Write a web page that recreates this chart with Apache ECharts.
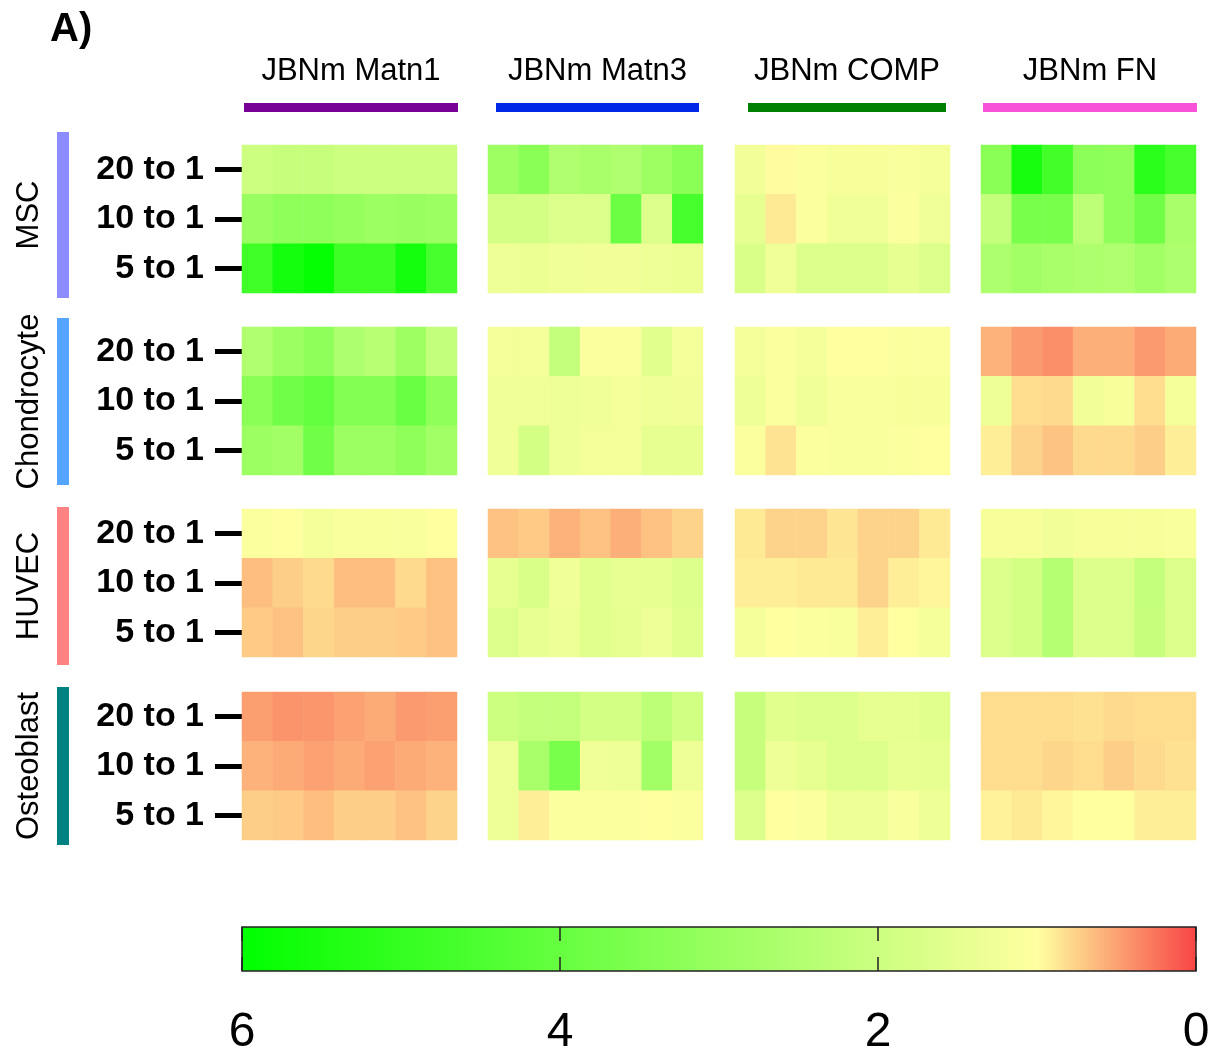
<!DOCTYPE html>
<html>
<head>
<meta charset="utf-8">
<script src="https://cdn.jsdelivr.net/npm/echarts@6/dist/echarts.min.js"></script>
<style>html,body{margin:0;padding:0;background:#fff;}#chart{width:1212px;height:1051px;}</style>
</head>
<body>
<div id="chart"></div>
<script>
// ---------------- DATA ----------------
const cellTypes = ['MSC', 'Chondrocyte', 'HUVEC', 'Osteoblast'];
const materials = ['JBNm Matn1', 'JBNm Matn3', 'JBNm COMP', 'JBNm FN'];
const ratios = ['20 to 1', '10 to 1', '5 to 1'];
const replicates = ['1', '2', '3', '4', '5', '6', '7'];
const colorbarMin = 0, colorbarMax = 6, colorbarStep = 2;

// each panel: rows = 20 to 1, 10 to 1, 5 to 1 ; 7 columns
const MSC_Matn1 = [
  [2.0, 2.1, 2.1, 2.0, 2.0, 2.0, 2.0],
  [3.0, 3.2, 3.2, 3.1, 2.95, 3.0, 2.95],
  [4.75, 5.6, 5.9, 4.8, 4.8, 5.6, 4.6]
];
const MSC_Matn3 = [
  [2.9, 3.3, 2.55, 2.7, 2.55, 2.9, 3.3],
  [1.85, 1.85, 1.7, 1.7, 3.9, 1.7, 4.6],
  [1.35, 1.4, 1.3, 1.25, 1.25, 1.35, 1.4]
];
const MSC_COMP = [
  [1.25, 0.98, 1.05, 1.15, 1.15, 1.1, 1.2],
  [1.5, 0.88, 1.05, 1.3, 1.3, 1.05, 1.3],
  [1.75, 1.3, 1.7, 1.7, 1.7, 1.5, 1.7]
];
const MSC_FN = [
  [3.3, 5.55, 4.7, 3.25, 3.2, 5.2, 4.6],
  [2.15, 3.65, 3.65, 2.3, 3.2, 3.8, 2.7],
  [2.6, 2.8, 2.7, 2.6, 2.55, 2.8, 2.6]
];
const Chondrocyte_Matn1 = [
  [2.55, 2.95, 3.2, 2.6, 2.4, 2.9, 2.2],
  [3.3, 3.8, 4.1, 3.45, 3.45, 3.95, 3.2],
  [2.95, 2.8, 3.8, 2.95, 2.95, 3.2, 2.8]
];
const Chondrocyte_Matn3 = [
  [1.2, 1.2, 2.15, 1.05, 1.05, 1.6, 1.2],
  [1.3, 1.3, 1.35, 1.3, 1.2, 1.3, 1.25],
  [1.3, 1.85, 1.35, 1.2, 1.2, 1.5, 1.5]
];
const Chondrocyte_COMP = [
  [1.2, 1.05, 1.2, 1.0, 1.0, 1.05, 1.05],
  [1.35, 1.05, 1.3, 1.1, 1.1, 1.15, 1.15],
  [1.05, 0.85, 1.05, 1.1, 1.1, 1.05, 1.0]
];
const Chondrocyte_FN = [
  [0.59, 0.46, 0.4, 0.57, 0.57, 0.46, 0.55],
  [1.35, 0.82, 0.8, 1.25, 1.15, 0.82, 1.2],
  [0.91, 0.76, 0.68, 0.8, 0.8, 0.74, 0.91]
];
const HUVEC_Matn1 = [
  [1.05, 1.0, 1.2, 1.1, 1.1, 1.1, 1.0],
  [0.65, 0.74, 0.8, 0.65, 0.65, 0.8, 0.67],
  [0.72, 0.67, 0.78, 0.74, 0.74, 0.72, 0.67]
];
const HUVEC_Matn3 = [
  [0.67, 0.72, 0.59, 0.67, 0.57, 0.67, 0.76],
  [1.5, 1.75, 1.3, 1.6, 1.45, 1.5, 1.7],
  [1.7, 1.45, 1.35, 1.6, 1.5, 1.35, 1.6]
];
const HUVEC_COMP = [
  [0.88, 0.76, 0.76, 0.86, 0.76, 0.76, 0.88],
  [0.91, 0.91, 0.88, 0.88, 0.76, 0.91, 0.95],
  [1.2, 1.0, 1.05, 1.1, 0.91, 1.0, 1.2]
];
const HUVEC_FN = [
  [1.15, 1.15, 1.25, 1.15, 1.15, 1.15, 1.1],
  [1.7, 1.85, 2.45, 1.7, 1.7, 2.15, 1.7],
  [1.7, 1.85, 2.45, 1.7, 1.7, 2.1, 1.7]
];
const Osteoblast_Matn1 = [
  [0.48, 0.42, 0.44, 0.5, 0.55, 0.46, 0.48],
  [0.59, 0.55, 0.5, 0.55, 0.5, 0.55, 0.59],
  [0.74, 0.72, 0.65, 0.74, 0.74, 0.67, 0.76]
];
const Osteoblast_Matn3 = [
  [2.0, 2.15, 2.15, 1.85, 1.85, 2.3, 1.9],
  [1.35, 2.7, 3.65, 1.3, 1.35, 2.8, 1.35],
  [1.35, 0.91, 1.05, 1.05, 1.05, 1.0, 1.05]
];
const Osteoblast_COMP = [
  [2.1, 1.6, 1.7, 1.7, 1.5, 1.5, 1.6],
  [2.1, 1.35, 1.5, 1.7, 1.7, 1.45, 1.5],
  [1.7, 1.0, 1.05, 1.35, 1.35, 1.1, 1.35]
];
const Osteoblast_FN = [
  [0.82, 0.82, 0.82, 0.84, 0.8, 0.82, 0.82],
  [0.82, 0.82, 0.78, 0.82, 0.74, 0.8, 0.84],
  [0.93, 0.88, 0.95, 1.0, 1.0, 0.91, 0.91]
];

const panels = [
  [MSC_Matn1, MSC_Matn3, MSC_COMP, MSC_FN],
  [Chondrocyte_Matn1, Chondrocyte_Matn3, Chondrocyte_COMP, Chondrocyte_FN],
  [HUVEC_Matn1, HUVEC_Matn3, HUVEC_COMP, HUVEC_FN],
  [Osteoblast_Matn1, Osteoblast_Matn3, Osteoblast_COMP, Osteoblast_FN]
];

// ---------------- LAYOUT / STYLE ----------------
const colLefts = [242, 488, 735, 981];
const panelW = 215;
const rowTops = [145, 327, 509, 692];
const panelH = 148;
const cellColors = ['#8c8cff', '#55a5ff', '#ff8282', '#008282'];
const cellBars = [[132, 298], [318, 485], [507, 665], [687, 845]];
const matColors = ['#780096', '#0028e6', '#008000', '#f752d8'];
const matBars = [[244, 458], [496, 699], [748, 946], [983, 1197]];
const scaleColors = ['#f84444', '#ffffa0', '#ccff80', '#99ff60', '#66ff40', '#33ff20', '#00ff00'];

const grids = [], xAxes = [], yAxes = [], series = [];
let gi = 0;
for (let r = 0; r < 4; r++) {
  for (let c = 0; c < 4; c++) {
    grids.push({ left: colLefts[c], top: rowTops[r], width: panelW, height: panelH, containLabel: false, outerBoundsMode: 'none' });
    xAxes.push({ gridIndex: gi, type: 'category', data: replicates, show: false });
    yAxes.push({
      gridIndex: gi, type: 'category', data: ratios, inverse: true,
      show: c === 0,
      axisLine: { show: false },
      axisTick: { show: true, alignWithLabel: true, length: 27, lineStyle: { color: '#000', width: 5 } },
      axisLabel: { margin: 38, fontSize: 34, fontWeight: 'bold', color: '#000', fontFamily: 'Liberation Sans, Arial, sans-serif' }
    });
    const d = [];
    panels[r][c].forEach((row, ri) => row.forEach((v, ci) => d.push([ci, ri, v])));
    series.push({ type: 'heatmap', xAxisIndex: gi, yAxisIndex: gi, data: d, itemStyle: { borderWidth: 0 }, emphasis: { disabled: true } });
    gi++;
  }
}

// colorbar grid
const cbIndex = gi;
grids.push({
  left: 242, top: 927, width: 954, height: 44, show: true, containLabel: false, outerBoundsMode: 'none',
  borderColor: '#222', borderWidth: 1.5,
  backgroundColor: new echarts.graphic.LinearGradient(0, 0, 1, 0, [
    { offset: 0, color: scaleColors[6] },
    { offset: 5 / 6, color: scaleColors[1] },
    { offset: 1, color: scaleColors[0] }
  ])
});
xAxes.push({
  gridIndex: cbIndex, type: 'value', min: colorbarMin, max: colorbarMax, interval: colorbarStep, inverse: true,
  position: 'bottom',
  axisLine: { show: false }, splitLine: { show: false },
  axisTick: { show: true, inside: true, length: 14, lineStyle: { color: '#222', width: 1.5 } },
  axisLabel: { margin: 38, fontSize: 48, color: '#000', fontFamily: 'Liberation Sans Narrow, Liberation Sans, Arial, sans-serif' }
});
xAxes.push({
  gridIndex: cbIndex, type: 'value', min: colorbarMin, max: colorbarMax, interval: colorbarStep, inverse: true,
  position: 'top',
  axisLine: { show: false }, splitLine: { show: false },
  axisTick: { show: true, inside: true, length: 14, lineStyle: { color: '#222', width: 1.5 } },
  axisLabel: { show: false }
});
yAxes.push({ gridIndex: cbIndex, type: 'value', show: false, min: 0, max: 1 });

// graphics
const graphic = [];
graphic.push({ type: 'text', left: 50, top: 10, style: { text: 'A)', font: 'bold 40px Liberation Sans, Arial, sans-serif', fill: '#000' } });
materials.forEach((m, i) => {
  const [x0, x1] = matBars[i];
  graphic.push({ type: 'text', x: (x0 + x1) / 2, y: 71, style: { text: m, font: '31px Liberation Sans, Arial, sans-serif', fill: '#000', textAlign: 'center', textVerticalAlign: 'middle' } });
  graphic.push({ type: 'rect', shape: { x: x0, y: 103, width: x1 - x0, height: 9 }, style: { fill: matColors[i] } });
});
cellTypes.forEach((ct, i) => {
  const [y0, y1] = cellBars[i];
  graphic.push({ type: 'rect', shape: { x: 57, y: y0, width: 12, height: y1 - y0 }, style: { fill: cellColors[i] } });
  graphic.push({ type: 'text', x: 29, y: (y0 + y1) / 2, rotation: Math.PI / 2, style: { text: ct, font: '31px Liberation Sans, Arial, sans-serif', fill: '#000', textAlign: 'center', textVerticalAlign: 'middle' } });
});

const chart = echarts.init(document.getElementById('chart'), null, { renderer: 'canvas' });
chart.setOption({
  animation: false,
  backgroundColor: '#fff',
  grid: grids,
  xAxis: xAxes,
  yAxis: yAxes,
  visualMap: {
    type: 'continuous', show: false, min: colorbarMin, max: colorbarMax,
    seriesIndex: series.map((s, i) => i),
    inRange: { color: scaleColors }
  },
  series: series,
  graphic: graphic
});
</script>
</body>
</html>
